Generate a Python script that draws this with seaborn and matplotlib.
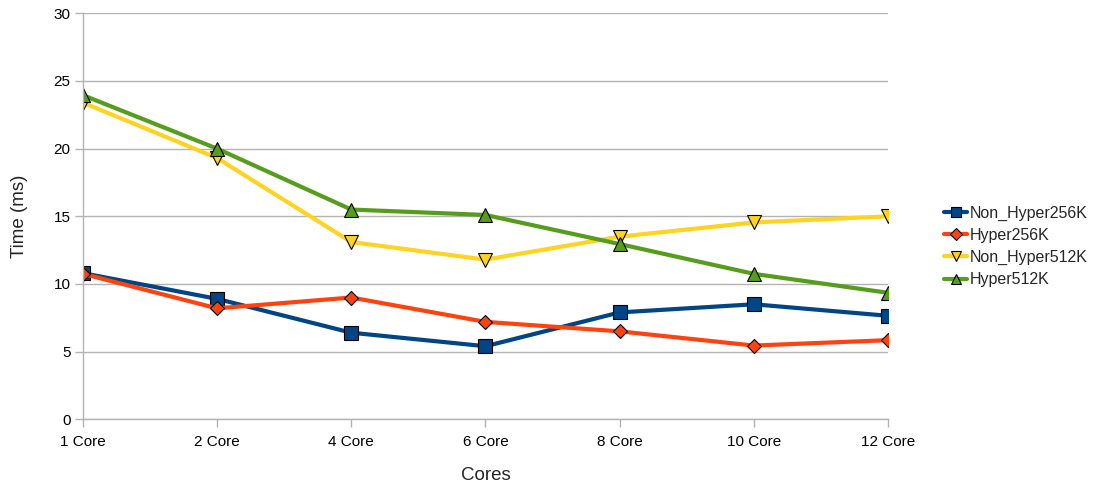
import matplotlib
matplotlib.use("Agg")
import matplotlib.pyplot as plt
import seaborn as sns
import pandas as pd

cores = ["1 Core", "2 Core", "4 Core", "6 Core", "8 Core", "10 Core", "12 Core"]
non_hyper_256k = [10.8, 8.9, 6.4, 5.4, 7.9, 8.5, 7.65]
hyper_256k = [10.75, 8.2, 9.0, 7.2, 6.5, 5.45, 5.85]
non_hyper_512k = [23.4, 19.3, 13.1, 11.8, 13.5, 14.55, 15.0]
hyper_512k = [23.95, 20.0, 15.5, 15.1, 12.95, 10.75, 9.35]

series_names = ["Non_Hyper256K", "Hyper256K", "Non_Hyper512K", "Hyper512K"]
series_values = [non_hyper_256k, hyper_256k, non_hyper_512k, hyper_512k]
colors = ["#004586", "#ff420e", "#ffd320", "#579d1c"]
markers = ["s", "D", "v", "^"]
msizes = [10, 7.5, 10.5, 10.5]

sns.set_theme(style="white")
plt.rcParams["font.family"] = ["Liberation Sans", "DejaVu Sans"]

rows = []
for name, vals in zip(series_names, series_values):
    for c, v in zip(cores, vals):
        rows.append({"Cores": c, "Time": v, "Series": name})
df = pd.DataFrame(rows)

fig = plt.figure(figsize=(10.96, 4.86), dpi=100)
ax = fig.add_axes([0.0757, 0.1372, 0.7345, 0.8354])

for name, col, mk, ms in zip(series_names, colors, markers, msizes):
    sub = df[df["Series"] == name]
    sns.lineplot(data=sub, x="Cores", y="Time", ax=ax, color=col, lw=3,
                 marker=mk, markersize=ms, markeredgecolor="black",
                 markeredgewidth=0.8, label=name, sort=False)

ax.set_xlim(0, len(cores) - 1)
ax.set_ylim(0, 30)
ax.set_yticks(range(0, 31, 5))
ax.yaxis.grid(True, color="#b3b3b3", lw=1)
ax.xaxis.grid(False)
for s in ["top", "right"]:
    ax.spines[s].set_visible(False)
for s in ["left", "bottom"]:
    ax.spines[s].set_color("#b3b3b3")
    ax.spines[s].set_linewidth(1)
ax.tick_params(axis="both", which="both", length=6, width=1, color="#b3b3b3",
               labelsize=11, labelcolor="black", bottom=True, left=True)
ax.tick_params(axis="x", pad=5)
ax.tick_params(axis="y", pad=3)
ax.set_xlabel("Cores", fontsize=13.5, labelpad=13)
ax.set_ylabel("Time (ms)", fontsize=13.5, labelpad=18)

leg = ax.legend(loc="center left", bbox_to_anchor=(1.07, 0.426), frameon=False,
                fontsize=11.5, handlelength=1.4, handletextpad=0.2,
                labelspacing=0.45, borderaxespad=0, borderpad=0,
                markerscale=0.75)

fig.savefig("out.png", dpi=100)
